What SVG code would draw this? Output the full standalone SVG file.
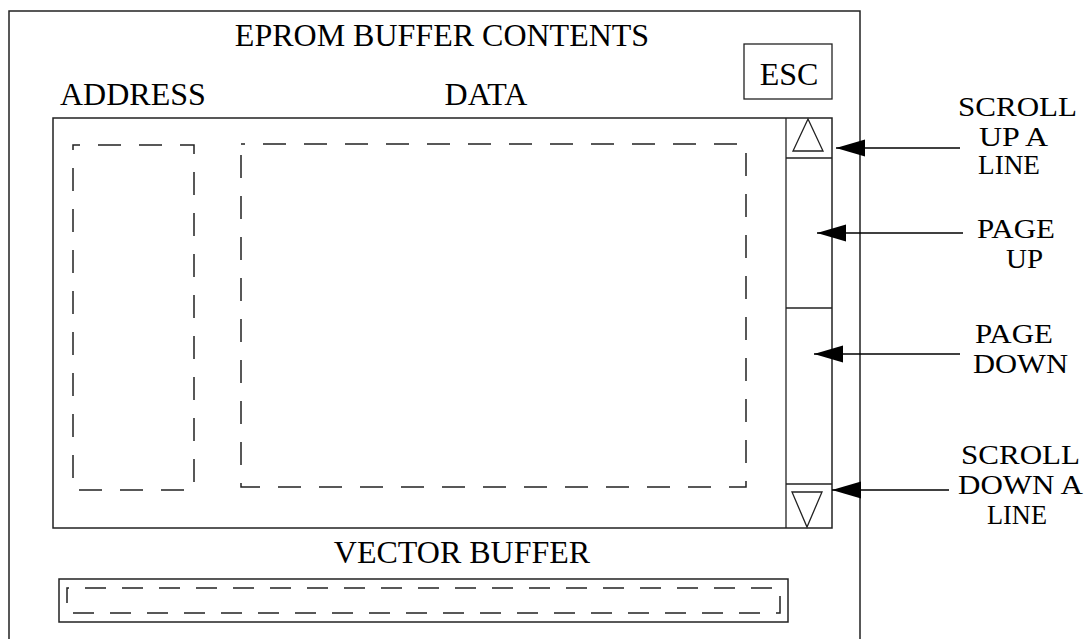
<svg xmlns="http://www.w3.org/2000/svg" width="1088" height="639" viewBox="0 0 1088 639">
<style>
  .box{fill:none;stroke:#222;stroke-width:1.5}
  .thin{fill:none;stroke:#222;stroke-width:1.3}
  .dash{fill:none;stroke:#222;stroke-width:1.5;stroke-dasharray:23 18}
  .dash2{fill:none;stroke:#222;stroke-width:1.5;stroke-dasharray:21 16}
  .t{font-family:"Liberation Serif","Times New Roman",serif;font-size:32px;fill:#000}
  .s{font-family:"Liberation Serif","Times New Roman",serif;font-size:27px;fill:#000}
  .c{text-anchor:middle}
  .conn{stroke:#000;stroke-width:1.5;fill:none;marker-end:url(#ah)}
</style>
<defs>
  <marker id="ah" markerWidth="30" markerHeight="18" refX="29" refY="8.5" orient="auto" markerUnits="userSpaceOnUse">
    <path d="M0,0 L29,8.5 L0,17 Z" fill="#000"/>
  </marker>
</defs>
<rect width="1088" height="639" fill="#fff"/>
<g id="frame">
  <rect class="box" x="9" y="11" width="851" height="640"/>
  <text class="t c" x="442" y="46">EPROM BUFFER CONTENTS</text>
</g>
<g id="esc">
  <rect class="thin" x="744" y="44" width="88" height="55"/>
  <text class="t c" x="789" y="85">ESC</text>
</g>
<g id="labels">
  <text class="t" x="60" y="105">ADDRESS</text>
  <text class="t c" x="486" y="105">DATA</text>
</g>
<g id="display">
  <rect class="box" x="53" y="118" width="779" height="410"/>
  <rect class="dash" x="73" y="145" width="121" height="345" stroke-dashoffset="16"/>
  <rect class="dash" x="241" y="144" width="505" height="343" stroke-dashoffset="19"/>
</g>
<g id="scrollbar">
  <line class="thin" x1="786" y1="118" x2="786" y2="528"/>
  <line class="thin" x1="786" y1="158" x2="832" y2="158"/>
  <line class="thin" x1="786" y1="308" x2="832" y2="308"/>
  <line class="thin" x1="786" y1="484" x2="832" y2="484"/>
  <polygon class="thin" points="793,151 823,151 808,119"/>
  <polygon class="thin" points="792,492 822,492 807,527"/>
</g>
<g id="vector">
  <text class="t c" x="462" y="563">VECTOR BUFFER</text>
  <rect class="box" x="59" y="579" width="729" height="43"/>
  <rect class="dash2" x="67" y="588" width="713" height="25" stroke-dashoffset="19"/>
</g>
<g id="callouts">
  <text class="s" x="958" y="116" textLength="119" lengthAdjust="spacingAndGlyphs">SCROLL</text>
  <text class="s" x="979" y="146" textLength="69" lengthAdjust="spacingAndGlyphs">UP A</text>
  <text class="s" x="978" y="174" textLength="62" lengthAdjust="spacingAndGlyphs">LINE</text>
  <text class="s" x="977" y="238" textLength="78" lengthAdjust="spacingAndGlyphs">PAGE</text>
  <text class="s" x="1006" y="268" textLength="37" lengthAdjust="spacingAndGlyphs">UP</text>
  <text class="s" x="975" y="343" textLength="78" lengthAdjust="spacingAndGlyphs">PAGE</text>
  <text class="s" x="973" y="373" textLength="95" lengthAdjust="spacingAndGlyphs">DOWN</text>
  <text class="s" x="961" y="464" textLength="119" lengthAdjust="spacingAndGlyphs">SCROLL</text>
  <text class="s" x="958" y="494" textLength="125" lengthAdjust="spacingAndGlyphs">DOWN A</text>
  <text class="s" x="987" y="524" textLength="60" lengthAdjust="spacingAndGlyphs">LINE</text>
</g>
<g id="connectors">
  <line class="conn" x1="960" y1="148" x2="836" y2="148"/>
  <line class="conn" x1="963" y1="233" x2="817" y2="233"/>
  <line class="conn" x1="960" y1="354" x2="814" y2="354"/>
  <line class="conn" x1="949" y1="490" x2="832" y2="490"/>
</g>
</svg>
